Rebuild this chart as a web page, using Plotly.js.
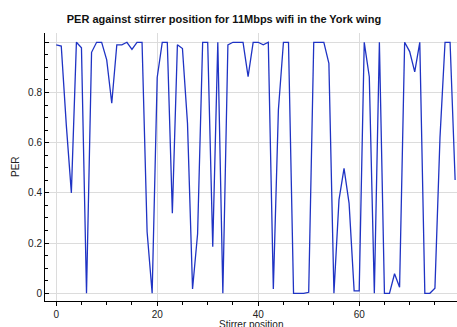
<!DOCTYPE html>
<html>
<head>
<meta charset="utf-8">
<script src="https://cdn.plot.ly/plotly-3.0.1.min.js"></script>
<style>html,body{margin:0;padding:0;background:#fff;}#chart{width:457px;height:327px;}</style>
</head>
<body>
<div id="chart"></div>
<script>
// Stirrer positions 0..79
var stirrerPosition = [
  0,1,2,3,4,5,6,7,8,9,
  10,11,12,13,14,15,16,17,18,19,
  20,21,22,23,24,25,26,27,28,29,
  30,31,32,33,34,35,36,37,38,39,
  40,41,42,43,44,45,46,47,48,49,
  50,51,52,53,54,55,56,57,58,59,
  60,61,62,63,64,65,66,67,68,69,
  70,71,72,73,74,75,76,77,78,79
];
var per = [
  0.99,0.985,0.67,0.40,1.0,0.978,0.0,0.96,1.0,1.0,
  0.93,0.757,0.99,0.99,1.0,0.972,1.0,1.0,0.245,0.0,
  0.86,1.0,1.0,0.319,0.99,0.975,0.677,0.017,0.237,1.0,
  1.0,0.186,1.0,0.0,0.99,1.0,1.0,1.0,0.863,1.0,
  1.0,0.99,1.0,0.017,0.73,1.0,1.0,0.0,0.0,0.0,
  0.004,1.0,1.0,1.0,0.916,0.0,0.372,0.498,0.358,0.01,
  0.01,1.0,0.863,0.0,1.0,0.0,0.0,0.078,0.024,1.0,
  0.963,0.882,1.0,0.0,0.0,0.02,0.62,1.0,1.0,0.451
];
var yTickVals = [0,0.2,0.4,0.6,0.8,1.0];
var yTickText = ['0','0.2','0.4','0.6','0.8',''];
var xTickVals = [0,20,40,60];
var xTickText = ['0','20','40','60'];
var xTitle = 'Stirrer position';
var yTitle = 'PER';
var chartTitle = 'PER against stirrer position for 11Mbps wifi in the York wing';

var trace = {
  x: stirrerPosition,
  y: per,
  type: 'scatter',
  mode: 'lines',
  line: {color: '#1f33c4', width: 1.3},
  hoverinfo: 'none'
};

var font = 'Liberation Sans, Arial, Helvetica, sans-serif';
var layout = {
  width: 457,
  height: 327,
  margin: {l: 45, r: 0, t: 33, b: 26, pad: 0},
  paper_bgcolor: '#fff',
  plot_bgcolor: '#fff',
  showlegend: false,
  font: {family: font, size: 10, color: '#222'},
  title: {
    text: '<b>' + chartTitle + '</b>',
    font: {family: font, size: 11, color: '#111'},
    x: 0.49, xref: 'container', xanchor: 'center',
    y: 0.94, yref: 'container', yanchor: 'middle'
  },
  xaxis: {
    range: [-2.22, 79.37],
    tickvals: xTickVals,
    ticktext: xTickText,
    ticks: 'outside',
    ticklen: 4,
    tickcolor: '#000',
    showline: true,
    linecolor: '#000',
    linewidth: 1,
    showgrid: true,
    gridcolor: '#dcdcdc',
    gridwidth: 1,
    zeroline: false,
    minor: {dtick: 5, tick0: 0, ticks: 'outside', ticklen: 3, tickcolor: '#000', showgrid: false},
    tickfont: {family: font, size: 10, color: '#222'},
    automargin: false
  },
  yaxis: {
    range: [-0.0307, 1.037],
    tickvals: yTickVals,
    ticktext: yTickText,
    ticks: 'inside',
    ticklen: 4,
    tickcolor: '#000',
    showline: true,
    linecolor: '#000',
    linewidth: 1,
    showgrid: true,
    gridcolor: '#dcdcdc',
    gridwidth: 1,
    zeroline: false,
    minor: {dtick: 0.05, tick0: 0, ticks: 'inside', ticklen: 3, tickcolor: '#000', showgrid: false},
    tickfont: {family: font, size: 10, color: '#222'},
    automargin: false
  },
  annotations: [{
    text: xTitle,
    xref: 'paper', yref: 'paper',
    x: 0.5, y: 0, xanchor: 'center', yanchor: 'top',
    yshift: -16,
    showarrow: false,
    font: {family: font, size: 10, color: '#222'}
  }, {
    text: yTitle,
    xref: 'paper', yref: 'paper',
    x: -0.0728, y: 0.5, xanchor: 'center', yanchor: 'middle',
    textangle: -90,
    showarrow: false,
    font: {family: font, size: 10, color: '#222'}
  }]
};

Plotly.newPlot('chart', [trace], layout, {staticPlot: true, displayModeBar: false});
</script>
</body>
</html>
